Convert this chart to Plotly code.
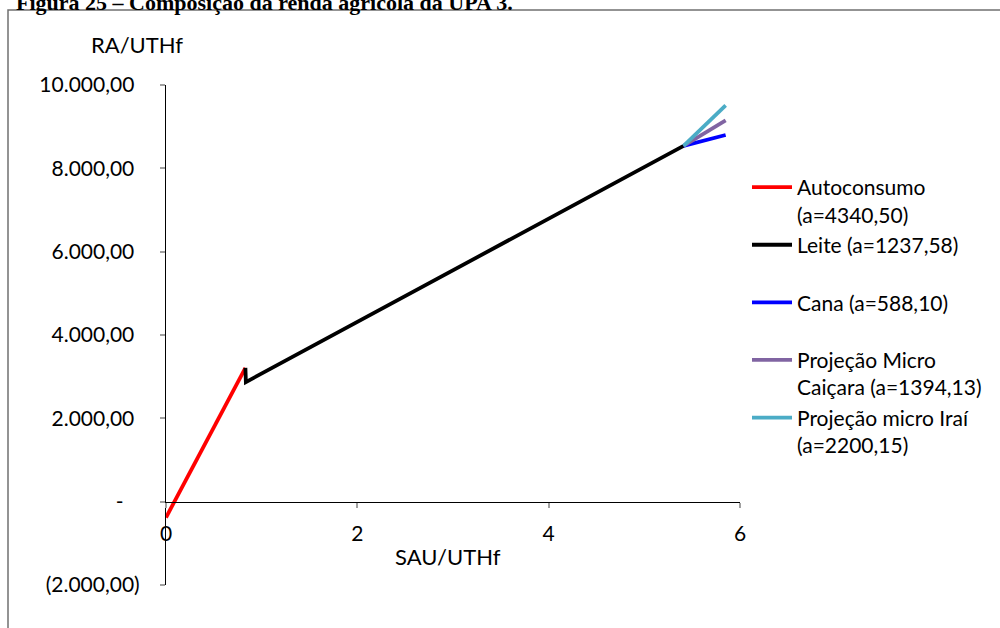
import plotly.graph_objects as go

# SAU/UTHf (x) vs RA/UTHf (y) segments of the agricultural income composition
auto_x = [0.0, 0.83]
auto_y = [-380, 3210]

leite_x = [0.83, 0.835, 5.41]
leite_y = [3210, 2870, 8540]

cana_x = [5.41, 5.85]
cana_y = [8540, 8800]

caicara_x = [5.41, 5.85]
caicara_y = [8540, 9150]

irai_x = [5.41, 5.85]
irai_y = [8540, 9510]

series_names = [
    "Autoconsumo<br>(a=4340,50)",
    "Leite (a=1237,58)<br> ",
    "Cana (a=588,10)<br> ",
    "Projeção Micro<br>Caiçara (a=1394,13)",
    "Projeção micro Iraí<br>(a=2200,15)",
]
series_colors = ["#FF0000", "#000000", "#0000FF", "#8064A2", "#4BACC6"]

y_tickvals = [-2000, 0, 2000, 4000, 6000, 8000, 10000]
y_ticktext = ["(2.000,00)", "-\u00a0\u00a0\u00a0", "2.000,00\u00a0", "4.000,00\u00a0",
              "6.000,00\u00a0", "8.000,00\u00a0", "10.000,00\u00a0"]
x_tickvals = [0, 2, 4, 6]

FONT = "Lato"
FS = 21

fig = go.Figure()
for xs, ys, name, color in zip(
    [auto_x, leite_x, cana_x, caicara_x, irai_x],
    [auto_y, leite_y, cana_y, caicara_y, irai_y],
    series_names, series_colors,
):
    fig.add_trace(go.Scatter(x=xs, y=ys, mode="lines", name=name,
                             line=dict(color=color, width=3.8)))

# plot area spans pixels x 166..740, y 85..585
L, R, T, B = 166, 740, 85, 585
W, H = R - L, B - T

def px(xp):
    return (xp - L) / W

def py(yp):
    return (B - yp) / H

fig.update_layout(
    width=1000, height=628,
    margin=dict(l=L, r=1000 - R, t=T, b=628 - B),
    paper_bgcolor="white", plot_bgcolor="white",
    font=dict(family=FONT, size=FS, color="#000000"),
    showlegend=True,
    legend=dict(
        x=px(747), y=py(167), xanchor="left", yanchor="top",
        valign="top", font=dict(size=21, family=FONT),
        itemwidth=40, tracegroupgap=0, bgcolor="rgba(0,0,0,0)",
    ),
    xaxis=dict(
        range=[0, 6], tickvals=x_tickvals, ticktext=[str(v) for v in x_tickvals],
        showgrid=False, zeroline=False, showline=True, linecolor="#000000", linewidth=1.2,
        ticks="outside", ticklen=5, tickcolor="#a0a0a0", tickwidth=1.5,
        anchor="free", position=py(502),
        tickfont=dict(size=FS, family=FONT), ticklabelstandoff=8,
    ),
    yaxis=dict(
        range=[-2000, 10000], tickvals=y_tickvals, ticktext=y_ticktext,
        showgrid=False, zeroline=False, showline=True, linecolor="#000000", linewidth=1.2,
        ticks="outside", ticklen=5, tickcolor="#a0a0a0", tickwidth=1.5,
        tickfont=dict(size=FS, family=FONT), ticklabelstandoff=16,
    ),
)

# outer frame of the chart area
fig.add_shape(type="rect", xref="paper", yref="paper",
              x0=px(8), x1=px(1020), y0=py(650), y1=py(10),
              line=dict(color="#707070", width=1.5), fillcolor="rgba(0,0,0,0)", layer="below")

# figure caption above the frame
fig.add_annotation(text="<b>Figura 25 – Composição da renda agrícola da UPA 3.</b>",
                   xref="paper", yref="paper", x=px(14), y=py(17),
                   xanchor="left", yanchor="bottom", showarrow=False,
                   font=dict(family="Liberation Serif", size=22, color="#000000"))

# axis titles
fig.add_annotation(text="RA/UTHf", xref="paper", yref="paper", x=px(137), y=py(45),
                   xanchor="center", yanchor="middle", showarrow=False,
                   font=dict(family=FONT, size=22))
fig.add_annotation(text="SAU/UTHf", xref="paper", yref="paper", x=px(448), y=py(556),
                   xanchor="center", yanchor="middle", showarrow=False,
                   font=dict(family=FONT, size=22))

fig.write_html("out.html")
